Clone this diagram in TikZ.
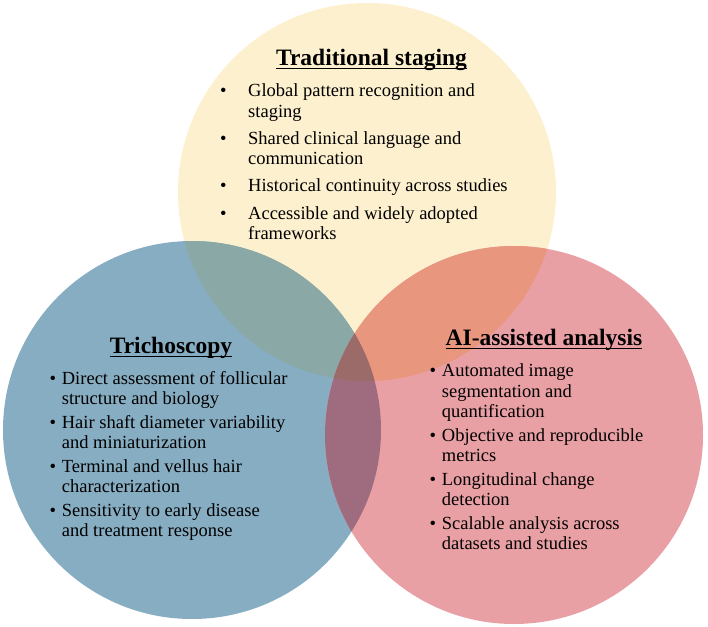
\documentclass[tikz,border=0pt]{standalone}
\usepackage{fontspec}
\setmainfont{Liberation Serif}
\usepackage{xcolor}
\usetikzlibrary{positioning}
\definecolor{stageyellow}{HTML}{FDF0CE}
\definecolor{trichoblue}{HTML}{87ADC2}
\definecolor{aired}{HTML}{E9A0A4}
\definecolor{yellowblue}{HTML}{8AA8A5}
\definecolor{yellowred}{HTML}{E9967F}
\definecolor{bluered}{HTML}{9E6C7E}
\definecolor{allthree}{HTML}{9B6B6A}
\newcommand{\bul}[1]{\makebox[#1][l]{\textbullet}}
\tikzset{
  heading/.style={font=\fontsize{23.5}{26}\selectfont\bfseries,inner sep=0pt,anchor=base},
  headline/.style={black,line width=1pt},
  bulletlist/.style={font=\fontsize{18.5}{20.3}\selectfont,inner sep=0pt,anchor=base west}
}

\begin{document}
\begin{tikzpicture}[x=1pt,y=-1pt]
\useasboundingbox (0,0) rectangle (708,626);
\coordinate (trad) at (367,192);
\coordinate (tricho) at (192,430);
\coordinate (ai) at (514,435);
\def\rad{189pt}
% the three sets
\fill[stageyellow] (trad) circle[radius=\rad];
\fill[trichoblue] (tricho) circle[radius=\rad];
\fill[aired] (ai) circle[radius=\rad];
% overlaps
\begin{scope}
  \clip (trad) circle[radius=\rad];
  \fill[yellowblue] (tricho) circle[radius=\rad];
  \fill[yellowred] (ai) circle[radius=\rad];
\end{scope}
\begin{scope}
  \clip (tricho) circle[radius=\rad];
  \fill[bluered] (ai) circle[radius=\rad];
  \clip (ai) circle[radius=\rad];
  \fill[allthree] (trad) circle[radius=\rad];
\end{scope}
% headings
\node[heading] (tradhead) at (371.5,65) {Traditional staging};
\node[heading] (trichohead) at (171,353) {Trichoscopy};
\node[heading] (aihead) at (544,345) {AI-assisted analysis};
\foreach \h in {tradhead,trichohead,aihead}
  \draw[headline] ([yshift=-3.5pt]\h.base west) -- ([yshift=-3.5pt]\h.base east);
% lists
\node[bulletlist] (tradlist) at (220,96.7) {\begin{tabular}[t]{@{}l@{}l@{}}
\bul{28pt} & Global pattern recognition and\\
 & staging\\[7pt]
\bul{28pt} & Shared clinical language and\\
 & communication\\[7pt]
\bul{28pt} & Historical continuity across studies\\[7pt]
\bul{28pt} & Accessible and widely adopted\\
 & frameworks
\end{tabular}};
\node[bulletlist] (tricholist) at (49.5,384) {\begin{tabular}[t]{@{}l@{}l@{}}
\bul{12.2pt} & Direct assessment of follicular\\
 & structure and biology\\[3.5pt]
\bul{12.2pt} & Hair shaft diameter variability\\
 & and miniaturization\\[3.5pt]
\bul{12.2pt} & Terminal and vellus hair\\
 & characterization\\[3.5pt]
\bul{12.2pt} & Sensitivity to early disease\\
 & and treatment response
\end{tabular}};
\node[bulletlist] (ailist) at (429.5,376.7) {\begin{tabular}[t]{@{}l@{}l@{}}
\bul{12.2pt} & Automated image\\
 & segmentation and\\
 & quantification\\[3.5pt]
\bul{12.2pt} & Objective and reproducible\\
 & metrics\\[3.5pt]
\bul{12.2pt} & Longitudinal change\\
 & detection\\[3.5pt]
\bul{12.2pt} & Scalable analysis across\\
 & datasets and studies
\end{tabular}};
\end{tikzpicture}
\end{document}
